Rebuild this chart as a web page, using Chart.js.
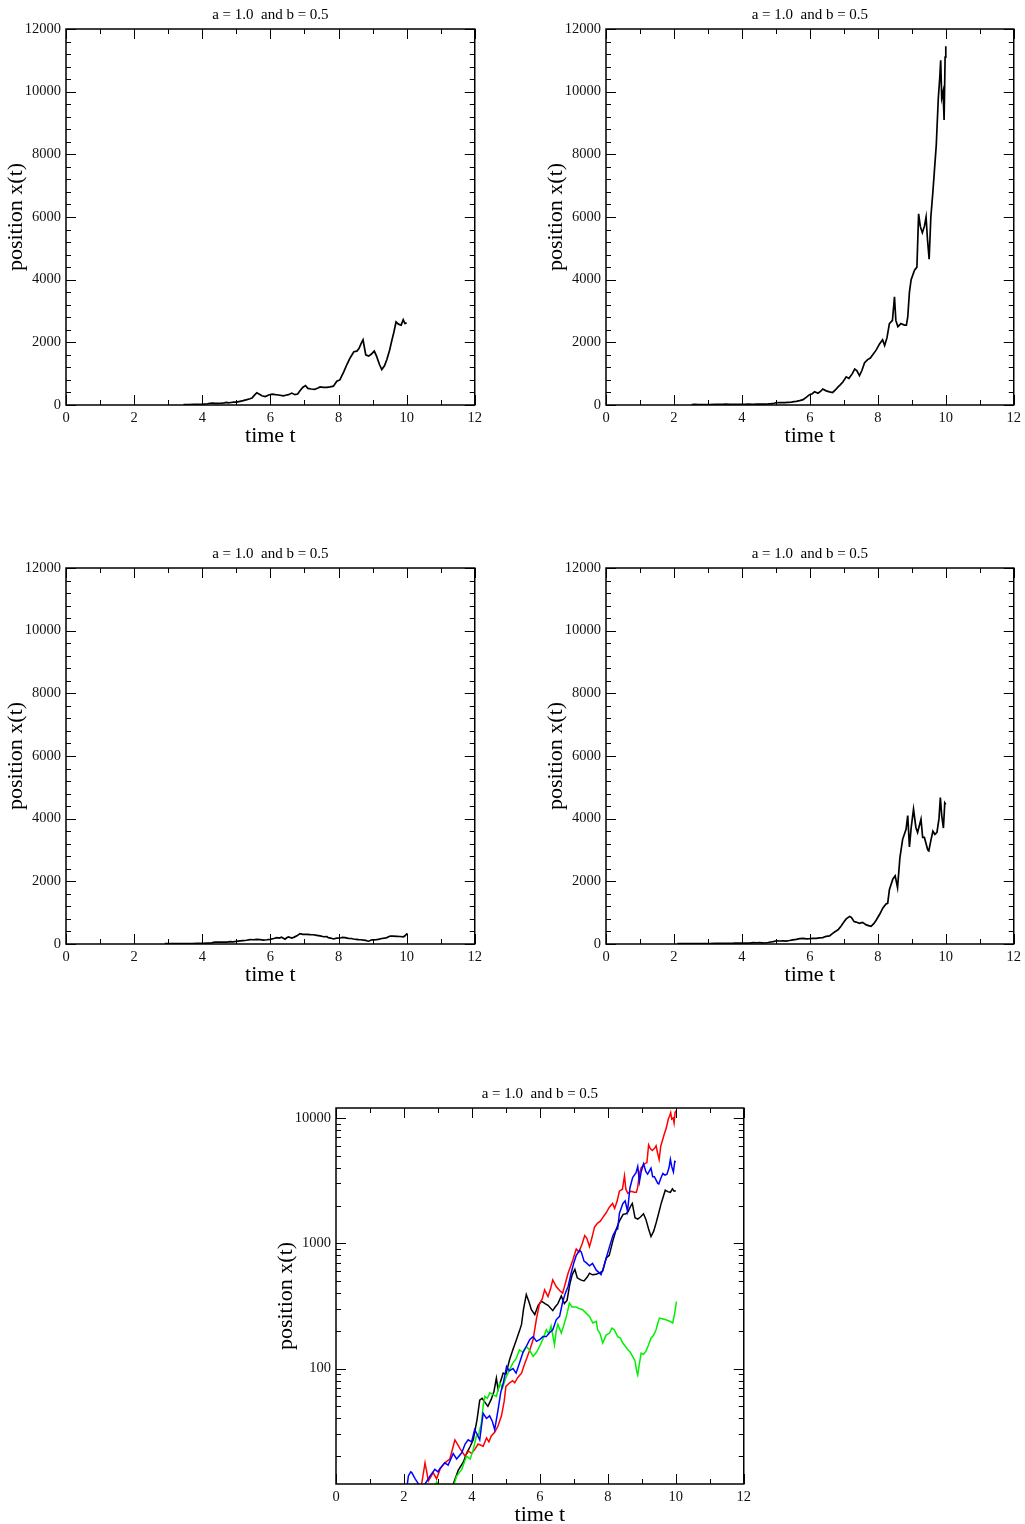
<!DOCTYPE html>
<html lang="en">
<head>
<meta charset="UTF-8">
<title>x(t) for a = 1.0 and b = 0.5</title>
<script src="https://cdn.jsdelivr.net/npm/chart.js"></script>
<style>
    html, body {
        margin: 0;
        padding: 0;
        width: 1025px;
        height: 1524px;
        overflow: hidden;
        background: #fff;
    }
    canvas {
        position: absolute;
    }
</style>
</head>
<body>

<canvas id="p1"></canvas>
<canvas id="p2"></canvas>
<canvas id="p3"></canvas>
<canvas id="p4"></canvas>
<canvas id="p5"></canvas>

<script>
// Texts and ticks
const panelTitle = 'a = 1.0  and b = 0.5';
const xLabel = 'time t';
const yLabel = 'position x(t)';
const xTicks = [0, 2, 4, 6, 8, 10, 12];
const yTicksLinear = [0, 2000, 4000, 6000, 8000, 10000, 12000];
const yTicksLog = [100, 1000, 10000];

// Run 1 (black)
const tBlack = [
    3.45, 3.60, 3.75, 3.84, 3.95, 4.04, 4.15, 4.23, 4.30, 4.38,
    4.47, 4.57, 4.65, 4.72, 4.77, 4.85, 4.92, 5.00, 5.11, 5.20,
    5.31, 5.40, 5.46, 5.52, 5.60, 5.68, 5.75, 5.85, 5.95, 6.05,
    6.15, 6.24, 6.38, 6.45, 6.53, 6.63, 6.72, 6.80, 6.88, 6.95,
    7.03, 7.10, 7.20, 7.30, 7.40, 7.46, 7.55, 7.66, 7.75, 7.85,
    7.95, 8.04, 8.15, 8.25, 8.34, 8.45, 8.54, 8.60, 8.68, 8.72,
    8.80, 8.88, 8.96, 9.05, 9.12, 9.20, 9.27, 9.35, 9.42, 9.50,
    9.57, 9.62, 9.69, 9.76, 9.84, 9.90, 9.95, 10.00
];
const xBlack = [
    12, 15.5, 18, 21, 24, 27, 39, 56, 58, 54,
    50, 57, 66, 84, 68, 80, 92, 90, 118, 140,
    170, 200, 225, 300, 390, 340, 295, 270, 320, 345,
    330, 320, 290, 310, 330, 380, 330, 350, 470, 560,
    620, 530, 510, 500, 540, 577, 560, 565, 580, 600,
    760, 800, 1050, 1300, 1500, 1700, 1720, 1800, 2000, 2080,
    1600, 1560, 1620, 1720, 1550, 1300, 1130, 1250, 1450, 1750,
    2080, 2300, 2650, 2580, 2550, 2720, 2600, 2620
];

// Run 2 (red)
const tRed = [
    2.52, 2.62, 2.72, 2.86, 2.96, 3.06, 3.20, 3.35, 3.45, 3.50,
    3.65, 3.80, 3.90, 3.99, 4.10, 4.18, 4.33, 4.43, 4.50, 4.57,
    4.67, 4.77, 4.87, 4.95, 5.00, 5.11, 5.20, 5.26, 5.35, 5.46,
    5.53, 5.60, 5.70, 5.80, 5.90, 5.99, 6.07, 6.14, 6.24, 6.32,
    6.38, 6.48, 6.58, 6.67, 6.75, 6.83, 6.90, 6.97, 7.07, 7.15,
    7.25, 7.32, 7.38, 7.46, 7.53, 7.61, 7.70, 7.78, 7.85, 7.95,
    8.05, 8.14, 8.20, 8.27, 8.34, 8.43, 8.49, 8.53, 8.59, 8.68,
    8.78, 8.84, 8.88, 8.93, 8.98, 9.08, 9.15, 9.20, 9.25, 9.31,
    9.37, 9.42, 9.46, 9.51, 9.56, 9.62, 9.66, 9.72, 9.78, 9.82,
    9.85, 9.88, 9.92, 9.95, 9.98, 10.00
];
const xRed = [
    12, 17.7, 12.7, 14.8, 13.2, 15.7, 17.7, 19, 24, 27,
    23, 20, 22, 21, 23, 25, 24, 28, 26, 29,
    31, 35, 42, 55, 72, 77, 80, 77, 85, 92,
    105, 118, 140, 170, 250, 330, 360, 425, 376, 440,
    510, 452, 420, 400, 480, 577, 650, 736, 900, 850,
    1000, 1150, 1100, 940, 1100, 1350, 1450, 1500, 1600, 1750,
    1950, 2080, 1900, 2150, 2600, 2700, 3450, 2700, 2500, 2600,
    2550, 2550, 2800, 3600, 4000, 4300, 4400, 6100, 5700, 5500,
    5700, 6000, 5300, 4650, 6000, 6800, 7400, 8300, 9800, 10400,
    11000, 9800, 10000, 9100, 11100, 11450
];

// Run 3 (green)
const tGreen = [
    2.90, 2.96, 3.05, 3.20, 3.40, 3.50, 3.55, 3.70, 3.84, 3.95,
    4.04, 4.13, 4.20, 4.28, 4.33, 4.38, 4.45, 4.53, 4.62, 4.72,
    4.82, 4.90, 5.00, 5.11, 5.20, 5.30, 5.40, 5.50, 5.60, 5.70,
    5.80, 5.90, 5.99, 6.10, 6.19, 6.26, 6.33, 6.43, 6.48, 6.53,
    6.63, 6.70, 6.78, 6.87, 6.95, 7.07, 7.17, 7.26, 7.36, 7.46,
    7.56, 7.66, 7.70, 7.77, 7.85, 7.95, 8.05, 8.12, 8.19, 8.29,
    8.37, 8.44, 8.52, 8.59, 8.66, 8.73, 8.80, 8.85, 8.88, 8.93,
    8.98, 9.05, 9.12, 9.20, 9.27, 9.35, 9.42, 9.47, 9.52, 9.60,
    9.71, 9.80, 9.91, 9.96, 10.02
];
const xGreen = [
    11, 12.5, 11.5, 10, 11, 12.5, 13.9, 15.7, 20, 19,
    22.6, 28.8, 30, 37, 50, 60, 58, 64, 62, 60,
    77, 70, 85, 98, 110, 120, 141, 135, 150, 140,
    125, 135, 150, 175, 204, 190, 218, 155, 200, 225,
    192, 220, 261, 333, 310, 310, 300, 295, 277, 261,
    231, 238, 204, 190, 160, 185, 192, 210, 204, 180,
    175, 160, 150, 141, 135, 125, 115, 95, 89, 110,
    133, 130, 137, 155, 175, 185, 204, 230, 253, 250,
    245, 240, 231, 270, 343
];

// Run 4 (blue)
const tBlue = [
    2.10, 2.13, 2.20, 2.23, 2.33, 2.43, 2.50, 2.62, 2.77, 2.91,
    3.00, 3.06, 3.20, 3.30, 3.45, 3.55, 3.70, 3.80, 3.89, 3.99,
    4.08, 4.15, 4.23, 4.33, 4.43, 4.52, 4.60, 4.67, 4.77, 4.85,
    4.92, 5.02, 5.10, 5.21, 5.30, 5.40, 5.50, 5.60, 5.70, 5.80,
    5.90, 5.99, 6.09, 6.19, 6.28, 6.38, 6.48, 6.58, 6.67, 6.75,
    6.83, 6.92, 7.00, 7.07, 7.17, 7.22, 7.30, 7.36, 7.46, 7.55,
    7.66, 7.75, 7.80, 7.88, 7.95, 8.05, 8.15, 8.24, 8.29, 8.34,
    8.44, 8.51, 8.58, 8.65, 8.73, 8.83, 8.88, 8.93, 8.98, 9.05,
    9.12, 9.17, 9.27, 9.32, 9.37, 9.47, 9.50, 9.56, 9.62, 9.68,
    9.74, 9.80, 9.84, 9.88, 9.93, 9.97, 10.00
];
const xBlue = [
    12, 13.9, 15, 14.8, 13.2, 12, 11, 12, 13.9, 15.7,
    15, 16, 17.7, 17, 21, 19, 21.3, 25, 27, 26,
    32.6, 30, 27, 44, 40, 42, 38, 32.6, 47, 65,
    76, 104, 96, 100, 92, 111, 134, 150, 170, 180,
    165, 170, 180, 180, 193, 204, 245, 261, 340, 400,
    452, 577, 700, 800, 880, 850, 720, 700, 660, 690,
    610, 580, 562, 650, 760, 940, 1150, 1280, 1300, 1730,
    2070, 2175, 1800, 2760, 3340, 3660, 4100, 3100, 3700, 4300,
    3720, 3560, 3980, 3400, 3400, 3000, 2970, 3300, 3600, 3500,
    3560, 4000, 4670, 4100, 3700, 4500, 4450
];

const runs = [
    { t: tBlack, x: xBlack, color: '#000000' },
    { t: tRed, x: xRed, color: '#ff0000' },
    { t: tGreen, x: xGreen, color: '#00f000' },
    { t: tBlue, x: xBlue, color: '#0000ff' }
];

Chart.defaults.font.family = "'Liberation Serif', 'Times New Roman', serif";
Chart.defaults.color = '#111';

// inward major/minor ticks on all four sides, the frame and the small title
const frameTicks = {
    id: 'frameTicks',
    afterDatasetsDraw(chart, args, opts) {
        const { ctx, chartArea: a } = chart;
        const xs = chart.scales.x;
        const ys = chart.scales.y;
        ctx.save();
        ctx.strokeStyle = '#000';
        ctx.lineWidth = 1;
        ctx.beginPath();
        const vTick = (v, len) => {
            const px = Math.round(xs.getPixelForValue(v)) + 0.5;
            ctx.moveTo(px, a.bottom); ctx.lineTo(px, a.bottom - len);
            ctx.moveTo(px, a.top); ctx.lineTo(px, a.top + len);
        };
        const hTick = (v, len) => {
            const py = Math.round(ys.getPixelForValue(v)) + 0.5;
            ctx.moveTo(a.left, py); ctx.lineTo(a.left + len, py);
            ctx.moveTo(a.right, py); ctx.lineTo(a.right - len, py);
        };
        xs.ticks.forEach(t => vTick(t.value, 10));
        for (let v = xs.min + 1; v < xs.max; v += 2) vTick(v, 5);
        ys.ticks.forEach(t => hTick(t.value, 10));
        if (opts.log) {
            for (let e = 1; e <= 4; e++) {
                for (let k = 2; k <= 9; k++) {
                    const v = k * Math.pow(10, e);
                    if (v > ys.min && v < ys.max) hTick(v, 5);
                }
            }
        } else {
            for (let v = ys.min; v < ys.max; v += 400) {
                if (v % 2000 !== 0) hTick(v, 5);
            }
        }
        ctx.stroke();
        ctx.lineWidth = 1.5;
        ctx.strokeRect(a.left, a.top, a.right - a.left, a.bottom - a.top);

        ctx.fillStyle = '#000';
        ctx.font = "15px 'Liberation Serif'";
        ctx.textAlign = 'center';
        ctx.textBaseline = 'middle';
        ctx.fillText(panelTitle, (a.left + a.right) / 2, a.top - 14);
        ctx.restore();
    }
};

function makePanel(id, left, top, width, list, log, colored) {
    const canvas = document.getElementById(id);
    canvas.width = 66 + width + 10;
    canvas.height = 29 + 376 + 45;
    canvas.style.left = (left - 66) + 'px';
    canvas.style.top = (top - 29) + 'px';

    // later runs on top, like the original
    const datasets = list.slice().reverse().map(r => ({
        data: r.t.map((t, i) => ({ x: t, y: r.x[i] })),
        borderColor: colored ? r.color : '#000',
        borderWidth: colored ? 1.5 : 1.7,
        pointRadius: 0,
        fill: false,
        tension: 0,
        clip: 0
    }));

    const tickFont = { size: 14.5 };
    const titleFont = { size: 22 };

    return new Chart(canvas, {
        type: 'line',
        data: { datasets: datasets },
        options: {
            responsive: false,
            animation: false,
            devicePixelRatio: 1,
            layout: { padding: { left: 0, top: 29, right: 10, bottom: 0 } },
            plugins: {
                legend: { display: false },
                tooltip: { enabled: false },
                frameTicks: { log: log }
            },
            scales: {
                x: {
                    type: 'linear',
                    min: 0,
                    max: 12,
                    afterBuildTicks: s => { s.ticks = xTicks.map(v => ({ value: v })); },
                    afterFit: s => { s.height = 45; },
                    grid: { display: false, drawTicks: false },
                    border: { display: false },
                    ticks: { font: tickFont, padding: 4, maxRotation: 0, autoSkip: false, callback: v => String(v) },
                    title: { display: true, text: xLabel, font: titleFont, color: '#000', padding: { top: 0, bottom: 1 } }
                },
                y: {
                    type: log ? 'logarithmic' : 'linear',
                    min: log ? 12 : 0,
                    max: 12000,
                    afterBuildTicks: s => { s.ticks = (log ? yTicksLog : yTicksLinear).map(v => ({ value: v })); },
                    afterFit: s => { s.width = 66; },
                    grid: { display: false, drawTicks: false },
                    border: { display: false },
                    ticks: { font: tickFont, padding: 5, autoSkip: false, callback: v => String(v) },
                    title: { display: true, text: yLabel, font: titleFont, color: '#000', padding: { top: 3, bottom: 0 } }
                }
            }
        },
        plugins: [frameTicks]
    });
}

makePanel('p1', 66, 29, 410, [runs[0]], false, false);
makePanel('p2', 606, 29, 409, [runs[1]], false, false);
makePanel('p3', 66, 568, 410, [runs[2]], false, false);
makePanel('p4', 606, 568, 409, [runs[3]], false, false);
makePanel('p5', 336, 1108, 409, runs, true, true);
</script>

</body>
</html>
